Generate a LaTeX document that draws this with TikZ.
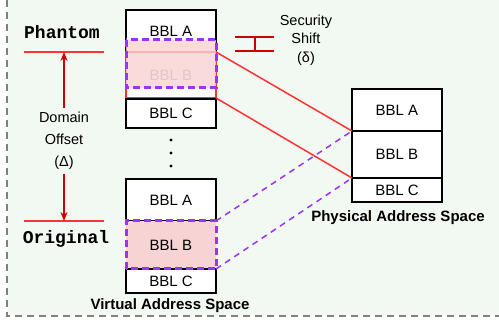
\documentclass[tikz,border=0pt]{standalone}
\usepackage{fontspec}
\setmainfont{Liberation Sans}
\setmonofont{Liberation Mono}
\usetikzlibrary{positioning, arrows.meta}
\definecolor{bgGreen}{HTML}{F2F8F2}
\definecolor{frameGray}{HTML}{808080}
\definecolor{lineRed}{HTML}{FF3333}
\definecolor{darkRed}{HTML}{CC0000}
\definecolor{dashPurple}{HTML}{9933FF}
\definecolor{bblPink}{HTML}{F8D3D3}
\tikzstyle{bbl}=[draw, line width=2.5pt, fill=white, minimum width=90pt, inner sep=0pt, outer sep=0pt, font=\fontsize{15}{18}\selectfont]
\tikzstyle{phantomSlot}=[bbl, draw=lineRed, line width=1.5pt, text=black!45]
\tikzstyle{shiftedEdge}=[draw=dashPurple, line width=3pt, dash pattern=on 7pt off 4pt]
\tikzstyle{marker}=[draw=lineRed, line width=1.5pt]
\tikzstyle{offsetArrow}=[-{Stealth[length=9pt,width=7pt]}, darkRed, line width=1.5pt]
\tikzstyle{mapping}=[lineRed, line width=1.5pt]
\tikzstyle{mappingDashed}=[dashPurple, line width=1.5pt, dash pattern=on 6pt off 5pt]
\tikzstyle{spaceLabel}=[anchor=base, font=\bfseries\fontsize{15}{18}\selectfont]
\tikzstyle{codeLabel}=[anchor=base, font=\ttfamily\bfseries\fontsize{18}{20}\selectfont]

\begin{document}
\begin{tikzpicture}[x=1pt, y=-1pt]
        \useasboundingbox (0,0) rectangle (499,323);
        \fill[bgGreen] (7,0) rectangle (499,316);
        \draw[frameGray, line width=1.5pt, dash pattern=on 7pt off 5pt] (7,0) -- (7,316) -- (499,316);

        % virtual address space, phantom copy
        \node[bbl, minimum height=42pt] (vA1) at (171,31) {BBL A};
        \node[phantomSlot, minimum height=46pt] (vB1) at (171,75) {BBL B};
        \node[bbl, minimum height=29pt] (vC1) at (171,113.5) {BBL C};
        \fill[bblPink, fill opacity=0.8] (126,40) rectangle (216,88);
        \draw[shiftedEdge] (126,40) rectangle (216,88);

        \foreach \y in {140,153,166}
            \fill (171,\y) circle (1.6pt);

        % virtual address space, original
        \node[bbl, minimum height=42pt] (vA2) at (171,200) {BBL A};
        \node[bbl, minimum height=24pt] (vC2) at (171,281) {BBL C};
        \node[bbl, draw=none, minimum height=48pt, fill=bblPink] (vB2) at (171,245) {BBL B};
        \draw[line width=2.5pt] (vB2.south west) -- (vB2.south east);
        \draw[shiftedEdge] (vB2.south west) rectangle (vB2.north east);
        \node[spaceLabel] (vLabel) at (170,310) {Virtual Address Space};

        % physical address space
        \node[bbl, minimum height=42pt] (pA) at (397,110) {BBL A};
        \node[bbl, minimum height=47pt] (pB) at (397,154.5) {BBL B};
        \node[bbl, minimum height=24pt] (pC) at (397,190) {BBL C};
        \node[spaceLabel] (pLabel) at (398,222) {Physical Address Space};

        \draw[mapping] (vB1.north east) -- (pB.north west);
        \draw[mapping] (vB1.south east) -- (pB.south west);
        \draw[mappingDashed] (vB2.north east) -- (pB.north west);
        \draw[mappingDashed] (vB2.south east) -- (pB.south west);

        % domain offset
        \node[codeLabel] (phantom) at (62,39) {Phantom};
        \node[codeLabel] (original) at (66,244) {Original};
        \coordinate (phL) at (24,52);
        \coordinate (phR) at (104,52);
        \coordinate (phMid) at (64,52);
        \coordinate (orL) at (24,221);
        \coordinate (orR) at (104,221);
        \coordinate (orMid) at (64,221);
        \draw[marker] (phL) -- (phR);
        \draw[marker] (orL) -- (orR);
        \node[align=center, font=\fontsize{14.5}{22}\selectfont, inner sep=4pt] (dOffset) at (64,141) {Domain\\Offset\\(Δ)};
        \draw[offsetArrow] (dOffset.north) -- (phMid);
        \draw[offsetArrow] (dOffset.south) -- (orMid);

        % security shift
        \coordinate (sTopL) at (235,37);
        \coordinate (sTopR) at (274,37);
        \coordinate (sBotL) at (235,51);
        \coordinate (sBotR) at (274,51);
        \draw[marker, darkRed] (sTopL) -- (sTopR);
        \draw[marker, darkRed] (sBotL) -- (sBotR);
        \draw[marker, darkRed] (255,37) -- (255,51);
        \node[align=center, font=\fontsize{14.5}{18.5}\selectfont] (sShift) at (306,40) {Security\\Shift\\(δ)};

\end{tikzpicture}
\end{document}
